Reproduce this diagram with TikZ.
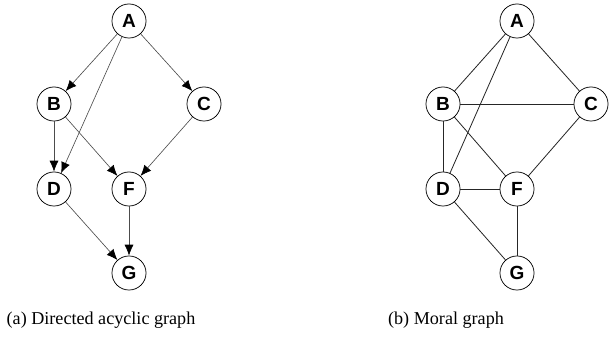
\documentclass[tikz,border=0pt]{standalone}
\usepackage{fontspec}
\setmainfont{Liberation Serif}
\newfontfamily\vfont{Liberation Sans}
\usetikzlibrary{arrows.meta}
\begin{document}
\begin{tikzpicture}[x=0.0194cm,y=-0.0194cm,
    var/.style={circle,draw,thin,minimum size=18.8pt,inner sep=0pt,font=\vfont\bfseries\fontsize{10.5}{12}\selectfont},
    dir/.style={-{Latex[length=6pt,width=5pt,black]},draw=black!70,line width=0.35pt},
    und/.style={draw=black!85,line width=0.45pt}]
\useasboundingbox (0,0) rectangle (613,339);
% (a) the DAG
\node[var] (aA) at (129,21) {A};
\node[var] (aB) at (54,104) {B};
\node[var] (aC) at (204,104) {C};
\node[var] (aD) at (54,189) {D};
\node[var] (aF) at (129,189) {F};
\node[var] (aG) at (129,273) {G};
\draw[dir] (aA) -- (aB);
\draw[dir] (aA) -- (aC);
\draw[dir] (aA) -- (aD);
\draw[dir] (aB) -- (aD);
\draw[dir] (aB) -- (aF);
\draw[dir] (aC) -- (aF);
\draw[dir] (aD) -- (aG);
\draw[dir] (aF) -- (aG);
\node (capa) at (101,320) {(a) Directed acyclic graph};
% (b) the moral graph
\node[var] (bA) at (517,21) {A};
\node[var] (bB) at (443,104) {B};
\node[var] (bC) at (591,104) {C};
\node[var] (bD) at (443,189) {D};
\node[var] (bF) at (517,189) {F};
\node[var] (bG) at (517,273) {G};
\draw[und] (bA) -- (bB);
\draw[und] (bA) -- (bC);
\draw[und] (bA) -- (bD);
\draw[und] (bB) -- (bC);
\draw[und] (bB) -- (bD);
\draw[und] (bB) -- (bF);
\draw[und] (bC) -- (bF);
\draw[und] (bD) -- (bF);
\draw[und] (bD) -- (bG);
\draw[und] (bF) -- (bG);
\node (capb) at (446,320) {(b) Moral graph};
\end{tikzpicture}
\end{document}
